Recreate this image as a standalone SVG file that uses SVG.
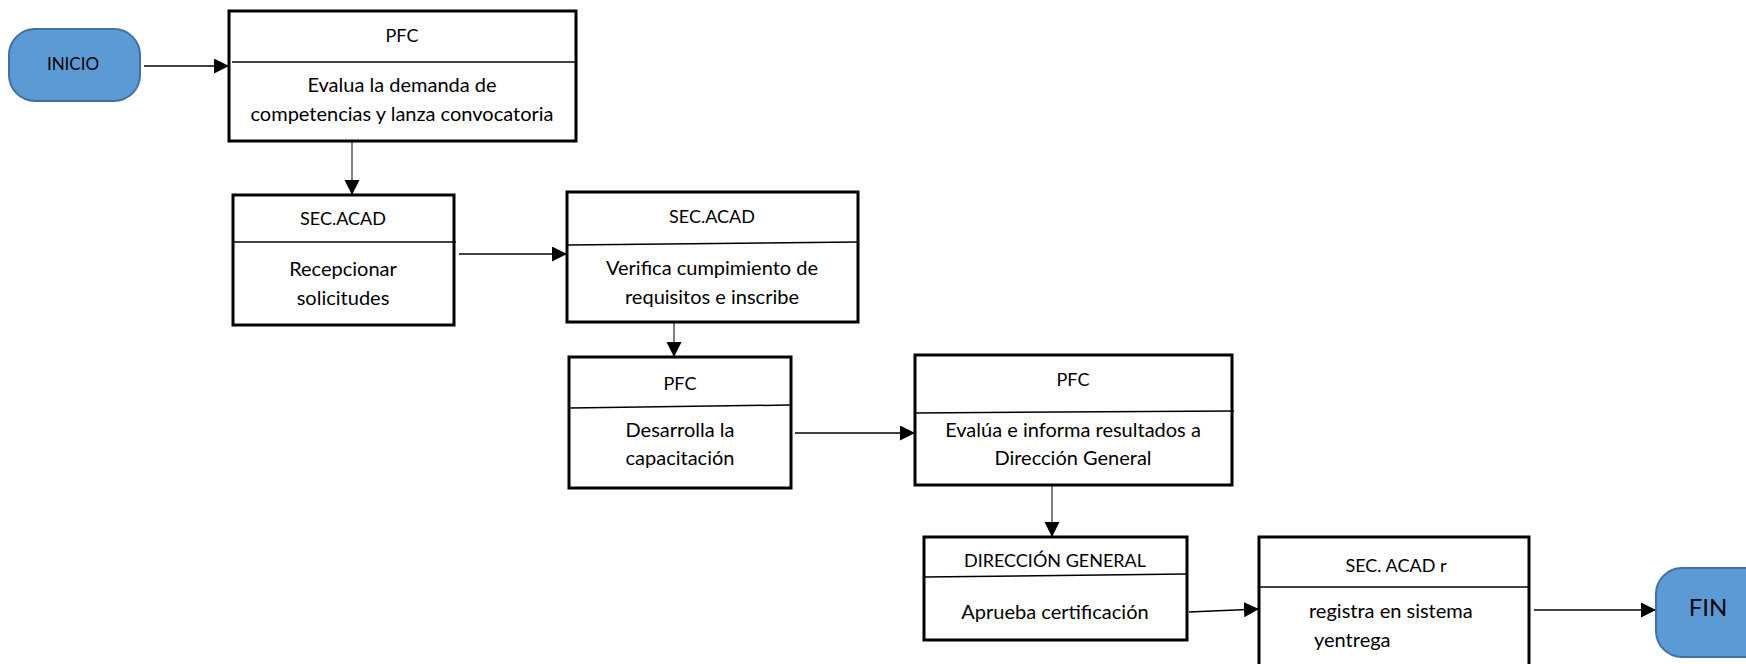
<svg xmlns="http://www.w3.org/2000/svg" width="1746" height="664" viewBox="0 0 1746 664">
<defs>
<marker id="ah" markerUnits="userSpaceOnUse" markerWidth="16" markerHeight="16" refX="15" refY="7.5" orient="auto">
<path d="M0,0 L15,7.5 L0,15 z" fill="#000"/>
</marker>
<style>
.box{fill:#fff;stroke:#000;stroke-width:3}
.div{stroke:#000;stroke-width:1.5;fill:none}
.t{font-family:Lato,"Liberation Sans",sans-serif;font-size:20px;fill:#000;text-anchor:middle}
.h{font-size:18px}
.term{fill:#5B9BD5;stroke:#41719C;stroke-width:2}
.c{stroke:#000;stroke-width:1.5;fill:none;marker-end:url(#ah)}
.g{stroke:#808080;stroke-width:2;fill:none;marker-end:url(#ah)}
</style>
</defs>
<rect width="1746" height="664" fill="#fff"/>
<g id="connectors">
<line class="c" x1="144" y1="66" x2="229" y2="66"/>
<line class="g" x1="352" y1="142" x2="352" y2="195"/>
<line class="c" x1="459" y1="254" x2="567" y2="254"/>
<line class="g" x1="674" y1="323" x2="674" y2="357"/>
<line class="c" x1="795" y1="433" x2="915" y2="433"/>
<line class="g" x1="1052" y1="486" x2="1052" y2="537"/>
<line class="c" x1="1189" y1="612" x2="1259" y2="609"/>
<line class="c" x1="1534" y1="610" x2="1656" y2="610"/>
</g>
<g id="inicio">
<rect class="term" x="9" y="29" width="131" height="72" rx="26" ry="26"/>
<text class="t" x="73" y="70" style="font-size:17px">INICIO</text>
</g>
<g id="pfc1">
<rect class="box" x="229" y="11" width="347" height="130"/>
<line class="div" x1="232" y1="62" x2="575" y2="62"/>
<text class="t h" x="402" y="42">PFC</text>
<text class="t" x="402" y="92">Evalua la demanda de</text>
<text class="t" x="402" y="121">competencias y lanza convocatoria</text>
</g>
<g id="secacad1">
<rect class="box" x="233" y="195" width="221" height="130"/>
<line class="div" x1="233" y1="242" x2="456" y2="242"/>
<text class="t h" x="343" y="225">SEC.ACAD</text>
<text class="t" x="343" y="276">Recepcionar</text>
<text class="t" x="343" y="305">solicitudes</text>
</g>
<g id="secacad2">
<rect class="box" x="567" y="192" width="291" height="130"/>
<line class="div" x1="568" y1="245" x2="858" y2="242"/>
<text class="t h" x="712" y="223">SEC.ACAD</text>
<text class="t" x="712" y="275">Verifica cumpimiento de</text>
<text class="t" x="712" y="304">requisitos e inscribe</text>
</g>
<g id="pfc3">
<rect class="box" x="569" y="357" width="222" height="131"/>
<line class="div" x1="570" y1="408" x2="790" y2="405"/>
<text class="t h" x="680" y="390">PFC</text>
<text class="t" x="680" y="437">Desarrolla la</text>
<text class="t" x="680" y="465">capacitación</text>
</g>
<g id="pfc4">
<rect class="box" x="915" y="355" width="317" height="130"/>
<line class="div" x1="916" y1="413" x2="1234" y2="411"/>
<text class="t h" x="1073" y="386">PFC</text>
<text class="t" x="1073" y="437">Evalúa e informa resultados a</text>
<text class="t" x="1073" y="465">Dirección General</text>
</g>
<g id="direccion">
<rect class="box" x="924" y="537" width="263" height="103"/>
<line class="div" x1="925" y1="577" x2="1186" y2="574"/>
<text class="t h" x="1055" y="567">DIRECCIÓN GENERAL</text>
<text class="t" x="1055" y="619">Aprueba certificación</text>
</g>
<g id="secacadr">
<rect class="box" x="1259" y="537" width="270" height="140"/>
<line class="div" x1="1260" y1="587" x2="1528" y2="587"/>
<text class="t h" x="1396" y="572">SEC. ACAD r</text>
<text class="t" x="1309" y="618" style="text-anchor:start">registra en sistema</text>
<text class="t" x="1314" y="647" style="text-anchor:start">yentrega</text>
</g>
<g id="fin">
<rect class="term" x="1656" y="568" width="120" height="89" rx="26" ry="26"/>
<text class="t" x="1708" y="616" style="font-size:24px">FIN</text>
</g>
</svg>
